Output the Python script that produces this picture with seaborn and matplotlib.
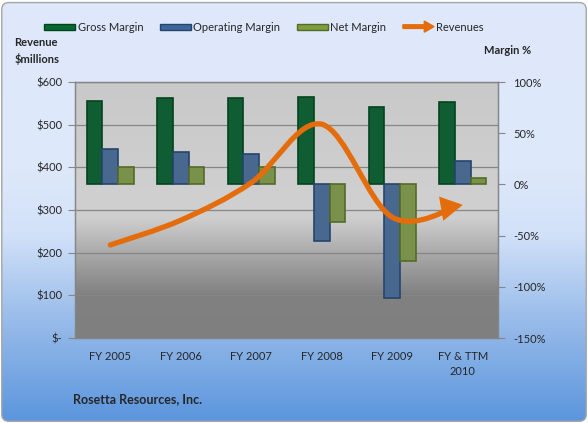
import numpy as np
import pandas as pd
import seaborn as sns
import matplotlib.pyplot as plt
from matplotlib import patches as mpatches
from matplotlib.path import Path
from matplotlib.colors import LinearSegmentedColormap
from matplotlib.legend_handler import HandlerPatch
from matplotlib.transforms import blended_transform_factory

# data
years = ['FY 2005', 'FY 2006', 'FY 2007', 'FY 2008', 'FY 2009', 'FY & TTM\n2010']
gross_margin = [81, 84, 84, 85, 76, 80]
operating_margin = [35, 32, 30, -55, -111, 23]
net_margin = [17, 17, 17, -37, -75, 6]
revenues = [218, 276, 364, 501, 283, 312]

revenue_ticks = [0, 100, 200, 300, 400, 500, 600]
revenue_labels = ['$-', '$100', '$200', '$300', '$400', '$500', '$600']
margin_ticks = [-150, -100, -50, 0, 50, 100]
margin_labels = ['-150%', '-100%', '-50%', '0%', '50%', '100%']

metrics = ['Gross Margin', 'Operating Margin', 'Net Margin']
bar_colors = {'Gross Margin': '#046A32', 'Operating Margin': '#3D679B', 'Net Margin': '#7D9D3E'}
edge_colors = {'Gross Margin': '#02441F', 'Operating Margin': '#26456C', 'Net Margin': '#536B28'}
line_color = '#E46C0A'

sns.set_style('white')
plt.rcParams['font.family'] = ['Lato', 'DejaVu Sans']
plt.rcParams['font.size'] = 8

fig = plt.figure(figsize=(5.88, 4.23), dpi=100)
fig.patch.set_facecolor('white')

# plot area position (figure fraction)
left, right, bottom, top = 75 / 588, 498 / 588, 1 - 338 / 423, 1 - 82 / 423

# background: rounded blue gradient panel + grey plot area gradient
bg = fig.add_axes([0, 0, 1, 1], zorder=-10)
bg.set_xlim(0, 1)
bg.set_ylim(0, 1)
bg.axis('off')
blue_cmap = LinearSegmentedColormap.from_list(
    'bluebg', [(0, '#5A95DD'), (0.25, '#9BBDEA'), (0.45, '#D3E2F9'), (0.6, '#DDE8FA'), (1, '#DFE9FA')])
grad = blue_cmap(np.linspace(0, 1, 256))[:, None, :]
frame = mpatches.FancyBboxPatch((0.003, 0.004), 0.994, 0.99,
                                boxstyle='round,pad=0,rounding_size=0.012',
                                mutation_aspect=588 / 423,
                                facecolor='none', edgecolor='#A6A6A6', linewidth=1.0,
                                transform=bg.transAxes, zorder=3)
bg.add_patch(frame)
im = bg.imshow(grad, extent=[0, 1, 0, 1], origin='lower', aspect='auto', zorder=0)
im.set_clip_path(frame)

grey_cmap = LinearSegmentedColormap.from_list(
    'greybg', [(0, '#7F7F7F'), (0.17, '#818181'), (0.47, '#CECECE'), (0.52, '#D0D0D0'), (1, '#C9C9C9')])
pgrad = grey_cmap(np.linspace(0, 1, 256))[:, None, :]
bg.imshow(pgrad, extent=[left, right, bottom, top], origin='lower', aspect='auto', zorder=1)

ax = fig.add_axes([left, bottom, right - left, top - bottom])
ax.patch.set_visible(False)

df = pd.DataFrame({
    'year': years * 3,
    'metric': [m for m in metrics for _ in years],
    'value': gross_margin + operating_margin + net_margin,
})
sns.barplot(data=df, x='year', y='value', hue='metric', hue_order=metrics,
            palette=bar_colors, width=0.66, ax=ax, legend=False, zorder=3)
for cont, m in zip(ax.containers, metrics):
    for bar in cont:
        bar.set_edgecolor(edge_colors[m])
        bar.set_linewidth(1.2)

ax2 = ax.twinx()
ax.yaxis.tick_right()
ax2.yaxis.tick_left()

ax.set_ylim(-150, 100)
ax.set_yticks(margin_ticks)
ax.set_yticklabels(margin_labels)
ax2.set_ylim(0, 600)
ax2.set_yticks(revenue_ticks)
ax2.set_yticklabels(revenue_labels)

# gridlines at revenue ticks, behind the bars
gtrans = blended_transform_factory(ax.transAxes, ax2.transData)
for v in revenue_ticks:
    ax.plot([0, 1], [v, v], color='#868686', lw=0.9, transform=gtrans, zorder=1)

ax.set_xlabel('')
ax.set_ylabel('')
ax.set_xlim(-0.5, len(years) - 0.5)
ax.set_xticks(range(len(years)))
ax.set_xticklabels(years, linespacing=1.5)
ax.set_xticks(np.arange(-0.5, len(years), 1), minor=True)
ax.tick_params(axis='x', which='major', length=0, pad=9)
ax.tick_params(axis='x', which='minor', length=3, direction='in', color='#A0A0A0')
ax.tick_params(axis='y', length=5, color='#868686', pad=6)
ax2.tick_params(axis='y', length=5, color='#868686', pad=4)
for a in (ax, ax2):
    for s in a.spines.values():
        s.set_color('#868686')
        s.set_linewidth(0.9)

# smooth revenue curve (Catmull-Rom style bezier through the data points) with arrow
xs = np.arange(len(revenues), dtype=float)
ys = np.array(revenues, dtype=float)
pts = np.column_stack([xs, ys])
ext = np.vstack([pts[0], pts, pts[-1]])
verts = [tuple(pts[0])]
codes = [Path.MOVETO]
for i in range(len(pts) - 1):
    p0, p1, p2, p3 = ext[i], ext[i + 1], ext[i + 2], ext[i + 3]
    c1 = p1 + (p2 - p0) / 6
    c2 = p2 - (p3 - p1) / 6
    verts += [tuple(c1), tuple(c2), tuple(p2)]
    codes += [Path.CURVE4] * 3
rev_path = Path(verts, codes)
arrow = mpatches.FancyArrowPatch(path=rev_path, arrowstyle='-|>,head_length=0.5,head_width=0.28',
                                 mutation_scale=20, color=line_color, linewidth=3.8,
                                 capstyle='round', joinstyle='miter',
                                 transform=ax2.transData, zorder=5)
ax2.add_patch(arrow)


class ArrowHandler(HandlerPatch):
    def create_artists(self, legend, orig_handle, xdescent, ydescent, width, height, fontsize, trans):
        a = mpatches.FancyArrow(-xdescent, height / 2 - ydescent, width, 0, width=2.6,
                                head_width=8, head_length=7, length_includes_head=True,
                                color=line_color, transform=trans)
        return [a]


handles = [mpatches.Rectangle((0, 0), 1, 1, facecolor=bar_colors[m], edgecolor=edge_colors[m], lw=1)
           for m in metrics]
rev_handle = mpatches.FancyArrow(0, 0, 1, 0, color=line_color)
handles.append(rev_handle)
fig.legend(handles, metrics + ['Revenues'], loc='center', bbox_to_anchor=(0.449, 0.936),
           ncol=4, frameon=False, fontsize=8, handlelength=2.8, handleheight=0.45,
           handletextpad=0.2, columnspacing=1.5,
           handler_map={rev_handle: ArrowHandler()})

fig.text(0.024, 0.88, 'Revenue\n$millions', fontweight='bold', fontsize=8,
         va='center', ha='left', linespacing=1.5)
fig.text(0.823, 0.88, 'Margin %', fontweight='bold', fontsize=8, va='center', ha='left')
fig.text(0.124, 0.057, 'Rosetta Resources, Inc.', fontweight='bold', fontsize=9,
         va='center', ha='left')

fig.savefig('out.png', dpi=100)
